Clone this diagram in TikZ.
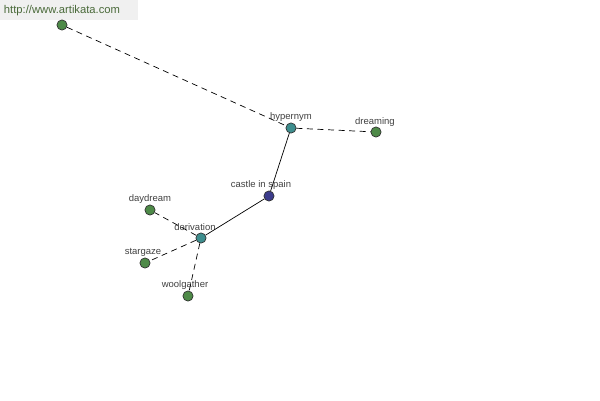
\documentclass[tikz,border=0pt]{standalone}
\usepackage{fontspec}
\setmainfont{Liberation Sans}
\definecolor{leafgreen}{HTML}{4E8A48}
\definecolor{relteal}{HTML}{3E8E8E}
\definecolor{rootblue}{HTML}{3C3C8C}
\definecolor{labelgray}{HTML}{404040}
\definecolor{sitegreen}{HTML}{4A6A3A}
\tikzset{
    word/.style={circle,draw=black!80,fill=leafgreen,inner sep=0pt,minimum size=5.8pt},
    relation/.style={word,fill=relteal},
    root/.style={word,fill=rootblue},
    tag/.style={font=\fontsize{5.4}{6}\selectfont,text=labelgray,inner sep=0pt},
    weak/.style={dashed,dash pattern=on 3.4pt off 2.6pt},
}

\begin{document}
\begin{tikzpicture}[x=0.02cm,y=-0.02cm]
    \useasboundingbox (0,0) rectangle (600,400);
    \fill[black!6] (0,0) rectangle (138,20);
    \node[tag,text=sitegreen,font=\fontsize{6.4}{7}\selectfont] (site) at (62,11) {http://www.artikata.com};

    \node[word] (top) at (62,25) {};
    \node[relation] (hyp) at (291,128) {};
    \node[word] (dream) at (376,132) {};
    \node[root] (castle) at (269,196) {};
    \node[relation] (deriv) at (201,238) {};
    \node[word] (day) at (150,210) {};
    \node[word] (star) at (145,263) {};
    \node[word] (wool) at (188,296) {};

    \node[tag] at (291,117.5) {hypernym};
    \node[tag] at (375,122) {dreaming};
    \node[tag] at (261,185.5) {castle in spain};
    \node[tag] at (195,227.5) {derivation};
    \node[tag] at (150,199.5) {daydream};
    \node[tag] at (143,252.5) {stargaze};
    \node[tag] at (185,285.5) {woolgather};

    \draw[weak] (top)--(hyp);
    \draw[weak] (hyp)--(dream);
    \draw (hyp)--(castle);
    \draw (castle)--(deriv);
    \draw[weak] (deriv)--(day);
    \draw[weak] (deriv)--(star);
    \draw[weak] (deriv)--(wool);
\end{tikzpicture}
\end{document}
